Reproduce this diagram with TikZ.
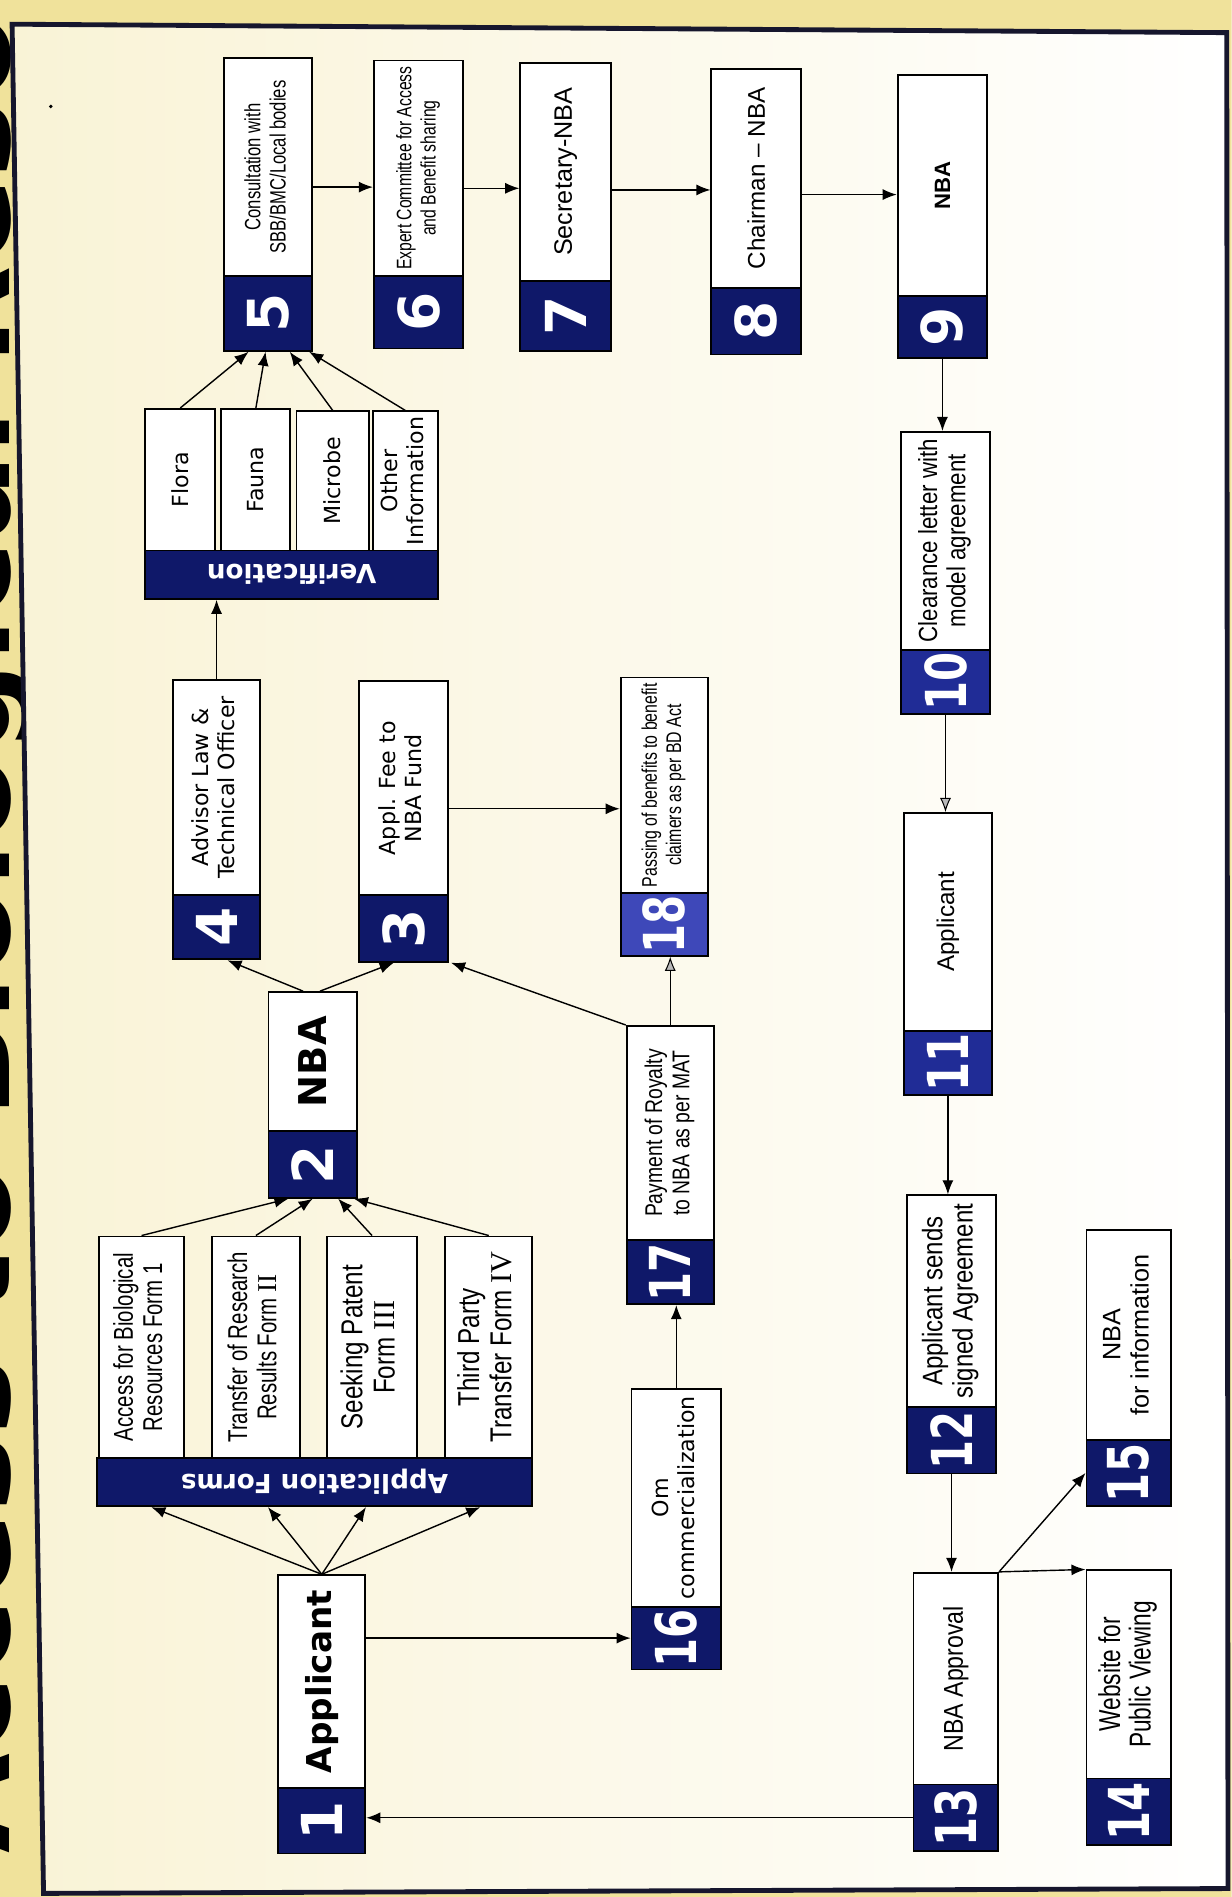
\documentclass[tikz,border=0pt]{standalone}
\usepackage{fontspec}
\usepackage{graphicx}
\setmainfont{Liberation Sans}
\newfontfamily\dv{DejaVu Sans}
\newfontfamily\cond[FakeStretch=0.75]{Liberation Sans}
\newfontfamily\condb[FakeStretch=0.8]{Liberation Sans}
\newfontfamily\narr[FakeStretch=0.85]{Liberation Sans}
\newfontfamily\serifn{Liberation Serif}
\usetikzlibrary{arrows.meta,calc}
\definecolor{navy}{RGB}{15,24,105}
\definecolor{navyb}{RGB}{32,44,150}
\definecolor{navyc}{RGB}{62,72,185}
\definecolor{paperl}{RGB}{249,243,214}
\definecolor{outerc}{RGB}{240,226,155}
\definecolor{framec}{RGB}{22,22,45}
\newcommand\fs[2]{\fontsize{#1}{#2}\selectfont}
\newcommand\rt[1]{\rotatebox{90}{#1}}
\newcommand\two[2]{\begin{tabular}{@{}c@{}}#1\\#2\end{tabular}}
\newcommand\dd[1]{\scalebox{0.74}[1]{#1}}
\newcommand\mkrect[7]{%
\pgfmathsetmacro\bw{(#4-#2)*0.6}%
\pgfmathsetmacro\bh{(#5-#3)*0.6}%
\node[#6,minimum width=\bw pt,minimum height=\bh pt] (#1) at ({(#2+#4)/2},{(#3+#5)/2}) {#7};}
\newcommand\mkbox[9]{%
\mkrect{#1}{#2}{#3}{#4}{#6}{wbox}{#8}%
\mkrect{#1n}{#2}{#6}{#4}{#5}{nbox,fill=#7}{#9}}
\begin{document}
\begin{tikzpicture}[x=0.6pt,y=-0.6pt,
 wbox/.style={draw=black,line width=0.9pt,fill=white,inner sep=0pt},
 nbox/.style={draw=black,line width=0.9pt,fill=navy,text=white,inner sep=0pt,font={\dv\bfseries\fs{28}{28}}},
 hbar/.style={draw=black,line width=0.9pt,fill=navy,text=white,inner sep=0pt,font={\dv\bfseries\fs{13}{13}}},
 arr/.style={line width=0.7pt,-{Latex[length=7pt,width=5.5pt]}},
 garr/.style={line width=0.5pt,-{Latex[length=7pt,width=5.5pt,fill=gray!55]}}]
\useasboundingbox (0,0) rectangle (1018,1568);
\clip (0,0) rectangle (1018,1568);
\fill[outerc] (0,0) rectangle (1018,1568);
\node[rotate=90,anchor=base west,inner sep=0pt,font={\dv\bfseries\fs{64}{64}}] (title) at (8,1532) {Access to Biological Resources};
\shade[left color=paperl,right color=white] (10,20) -- (1014,27) -- (1015,1561) -- (36,1565) -- cycle;
\draw[framec,line width=2.4pt] (10,20) -- (1014,27) -- (1015,1561) -- (36,1565) -- cycle;
\fill (42,88) circle (1.6);

% top row
\mkbox{b5}{185}{48}{258}{290}{228}{navy}{\rt{\cond\fs{11}{12.5}\two{Consultation with}{SBB/BMC/Local bodies}}}{\rt{5}}
\mkbox{b6}{309}{50}{383}{288}{228}{navy}{\rt{\cond\fs{10.4}{12}\two{Expert Committee for Access}{and Benefit sharing}}}{\rt{6}}
\mkbox{b7}{430}{52}{505}{290}{232}{navy}{\rt{\fs{12.5}{14}Secretary-NBA}}{\rt{7}}
\mkbox{b8}{588}{57}{662}{293}{238}{navy}{\rt{\fs{12}{14}Chairman -- NBA}}{\rt{8}}
\mkbox{b9}{742}{62}{816}{296}{245}{navy}{\rt{\bfseries\fs{11}{13}NBA}}{\rt{9}}
% right column
\mkbox{b10}{745}{357}{818}{590}{537}{navyb}{\rt{\narr\fs{13}{14}\two{Clearance letter with}{model agreement}}}{\rt{\dd{10}}}
\mkbox{b11}{747}{672}{820}{905}{852}{navyb}{\rt{\fs{12}{14}Applicant}}{\rt{\dd{11}}}
\mkbox{b12}{750}{988}{823}{1218}{1163}{navy}{\rt{\narr\fs{14}{15}\two{Applicant sends}{signed Agreement}}}{\rt{\dd{12}}}
\mkbox{b13}{755}{1300}{825}{1530}{1475}{navy}{\rt{\narr\fs{13.5}{15}NBA Approval}}{\rt{\dd{13}}}
\mkbox{b14}{898}{1298}{968}{1525}{1470}{navy}{\rt{\cond\fs{15}{14.5}\two{Website for}{Public Viewing}}}{\rt{\dd{14}}}
\mkbox{b15}{898}{1017}{968}{1245}{1190}{navy}{\rt{\fs{12.5}{14}\two{NBA}{for information}}}{\rt{\dd{15}}}
% middle column
\mkbox{b18}{513}{560}{585}{790}{738}{navyc}{\rt{\cond\fs{10.5}{12}\two{Passing of benefits to benefit}{claimers as per BD Act}}}{\rt{\dd{18}}}
\mkbox{b17}{518}{848}{590}{1078}{1025}{navy}{\rt{\condb\fs{12}{13.5}\two{Payment of Royalty}{to NBA as per MAT}}}{\rt{\dd{17}}}
\mkbox{b16}{522}{1148}{596}{1380}{1328}{navy}{\rt{\dv\fs{11}{13}\two{Om}{commercialization}}}{\rt{\dd{16}}}
% left side
\mkbox{b4}{143}{562}{215}{793}{740}{navy}{\rt{\dv\fs{11}{13}\two{Advisor Law \&}{Technical Officer}}}{\rt{4}}
\mkbox{b3}{297}{563}{370}{795}{740}{navy}{\rt{\dv\fs{11}{13}\two{Appl. Fee to}{NBA Fund}}}{\rt{3}}
\mkbox{b2}{222}{820}{295}{990}{935}{navy}{\rt{\dv\bfseries\fs{19}{20}NBA}}{\rt{2}}
\mkbox{b1}{230}{1302}{302}{1532}{1478}{navy}{\rt{\dv\bfseries\fs{17}{18}Applicant}}{\rt{1}}
% verification group
\mkrect{vf1}{120}{338}{178}{455}{wbox}{\rt{\dv\fs{11}{13}Flora}}
\mkrect{vf2}{183}{338}{240}{455}{wbox}{\rt{\dv\fs{11}{13}Fauna}}
\mkrect{vf3}{245}{340}{305}{455}{wbox}{\rt{\dv\fs{11}{13}Microbe}}
\mkrect{vf4}{308}{340}{362}{455}{wbox}{\rt{\dv\fs{11}{13}\two{Other}{Information}}}
\mkrect{vbar}{120}{455}{362}{495}{hbar}{\rotatebox{180}{Verification}}
% application forms group
\mkrect{af1}{82}{1022}{152}{1205}{wbox}{\rt{\cond\fs{13.5}{14.5}\two{Access for Biological}{Resources Form 1}}}
\mkrect{af2}{175}{1022}{248}{1205}{wbox}{\rt{\cond\fs{13.5}{14.5}\two{Transfer of Research}{Results Form {\serifn II}}}}
\mkrect{af3}{270}{1022}{345}{1205}{wbox}{\rt{\condb\fs{15}{16}\two{Seeking Patent}{Form {\serifn III}}}}
\mkrect{af4}{368}{1022}{440}{1205}{wbox}{\rt{\condb\fs{15}{16}\two{Third Party}{Transfer Form {\serifn IV}}}}
\mkrect{abar}{80}{1205}{440}{1245}{hbar}{\rotatebox{180}{Application Forms}}

% connectors top row
\coordinate (c56) at ([yshift=-10pt]b5.east);
\coordinate (c67) at ([yshift=-10pt]b6.east);
\coordinate (c78) at ([yshift=-9pt]b7.east);
\coordinate (c89) at ([yshift=-8pt]b8.east);
\draw[arr] (c56) -- (c56 -| b6.west);
\draw[arr] (c67) -- (c67 -| b7.west);
\draw[arr] (c78) -- (c78 -| b8.west);
\draw[arr] (c89) -- (c89 -| b9.west);
% right column
\draw[arr] (b9n.south) -- (b9n.south |- b10.north);
\draw[garr] (b10n.south) -- (b10n.south |- b11.north);
\draw[arr] (b11n.south) -- (b11n.south |- b12.north);
\draw[arr] (b12n.south) -- (b12n.south |- b13.north);
\draw[arr] (b13n.west) -- (b13n.west -| b1n.east);
\draw[arr] (b13.north east) -- (b14.north west);
\draw[arr] (b13.north east) -- (b15n.west);
% applicant to forms
\draw[arr] (b1.north) -- ($(abar.south -| af1.south)+(8,0)$);
\draw[arr] (b1.north) -- ($(abar.south -| af2.south)+(10,0)$);
\draw[arr] (b1.north) -- ($(abar.south -| af3.south)+(-5,0)$);
\draw[arr] (b1.north) -- ($(abar.south -| af4.south)+(-7,0)$);
% forms to NBA
\draw[arr] (af1.north) -- ($(b2n.south)+(-20,0)$);
\draw[arr] (af2.north) -- (b2n.south);
\draw[arr] (af3.north) -- ($(b2n.south)+(21,0)$);
\draw[arr] (af4.north) -- ($(b2n.south)+(34,0)$);
% NBA to 4 and 3
\draw[arr] ($(b2.north)+(-8,0)$) -- ($(b4n.south)+(9,0)$);
\draw[arr] ($(b2.north)+(6,0)$) -- ($(b3n.south)+(-8,0)$);
\draw[arr] (b17.north west) -- ($(b3n.south east)+(2,0)$);
% 4 to verification
\draw[arr] (b4.north) -- (b4.north |- vbar.south);
\draw[arr] (vf1.north) -- ($(b5n.south)+(-16,0)$);
\draw[arr] (vf2.north) -- ($(b5n.south)+(-2,0)$);
\draw[arr] (vf3.north) -- ($(b5n.south)+(18,0)$);
\draw[arr] (vf4.north) -- ($(b5n.south)+(34,0)$);
% 3 to 18
\coordinate (c318) at ($(b3.east)+(0,17)$);
\draw[arr] (c318) -- (c318 -| b18.west);
% 16,17,18
\draw[garr] (b17.north) -- (b17.north |- b18n.south);
\draw[arr] (b16.north) -- (b16.north |- b17n.south);
\draw[arr] (b16n.west -| b1.east) -- (b16n.west);
\end{tikzpicture}
\end{document}
